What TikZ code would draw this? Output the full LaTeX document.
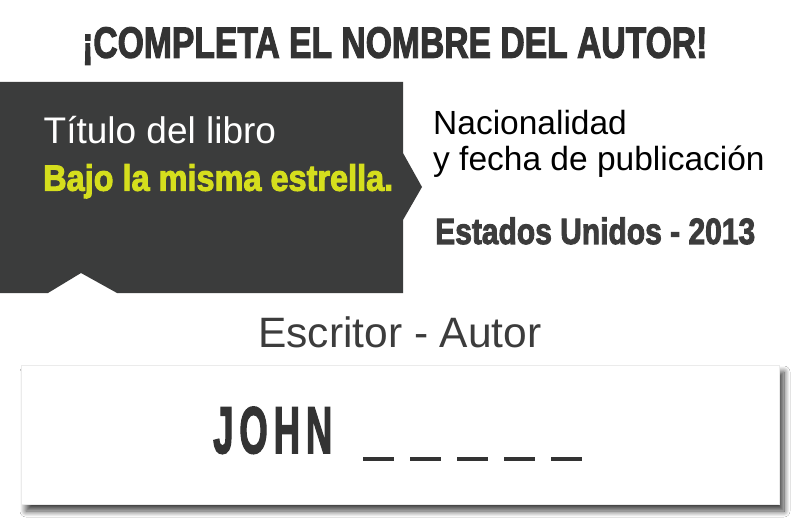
\documentclass[tikz,border=0pt]{standalone}
\usepackage{graphicx}
\usepackage{fontspec}
\setmainfont{Liberation Sans}
\newfontfamily\impactfont[FakeBold=2.8]{Liberation Sans Bold}
\usetikzlibrary{shadows.blur}
\definecolor{boxgray}{HTML}{3B3C3C}
\definecolor{titlegray}{HTML}{333333}
\definecolor{limey}{HTML}{D5DE1D}
\definecolor{textgray}{HTML}{3C3C3C}
\newcommand{\imp}[3]{\resizebox{#1bp}{#2bp}{\impactfont #3}}
\newcommand{\fsz}[1]{\fontsize{#1bp}{#1bp}\selectfont}
\tikzset{
  txt/.style={inner sep=0pt, anchor=base west},
  dashbar/.style={fill=titlegray, draw=none, minimum width=31bp, minimum height=4bp, inner sep=0pt, anchor=north west},
}
\begin{document}
\begin{tikzpicture}[x=1bp,y=-1bp]
\useasboundingbox (0,0) rectangle (800,521);
\fill[white] (0,0) rectangle (800,521);
% title
\node[txt, text=titlegray] (title) at (82,57.7) {\imp{625}{30.5}{¡COMPLETA EL NOMBRE DEL AUTOR!}};
% dark box
\fill[boxgray] (0,82) -- (403,82) -- (403,153) -- (422,187) -- (403,220) -- (403,293)
  -- (117,293) -- (81,273) -- (48,293) -- (0,293) -- cycle;
\node[txt, text=white] (tlabel) at (43.5,144) {\fsz{37}Título del libro};
\node[txt, text=limey] (tbook) at (43,190.7) {\imp{350}{26.5}{Bajo la misma estrella.}};
% right text
\node[txt, text=black] (nac) at (433,135) {\fsz{33.5}Nacionalidad};
\node[txt, text=black] (fecha) at (433,171) {\fsz{33.5}y fecha de publicación};
\node[txt, text=textgray] (pais) at (435,244) {\imp{320}{26.5}{Estados Unidos - 2013}};
% author
\node[txt, text=textgray] (escr) at (258,347) {\fsz{42.5}Escritor - Autor};
\path[fill=white, draw=black!8, line width=0.6bp,
  blur shadow={shadow xshift=5bp, shadow yshift=-7bp, shadow blur steps=12, shadow blur radius=6bp, shadow opacity=75}]
  (21,365) rectangle (779,504);
\node[txt, text=titlegray] (john) at (213,453) {\imp{119}{46}{J\kern1.6pt O\kern1.6pt H\kern1.6pt N}};
\foreach \i in {0,...,4}{
  \node[dashbar] (d\i) at (363+47*\i,457) {};
}
\end{tikzpicture}
\end{document}
